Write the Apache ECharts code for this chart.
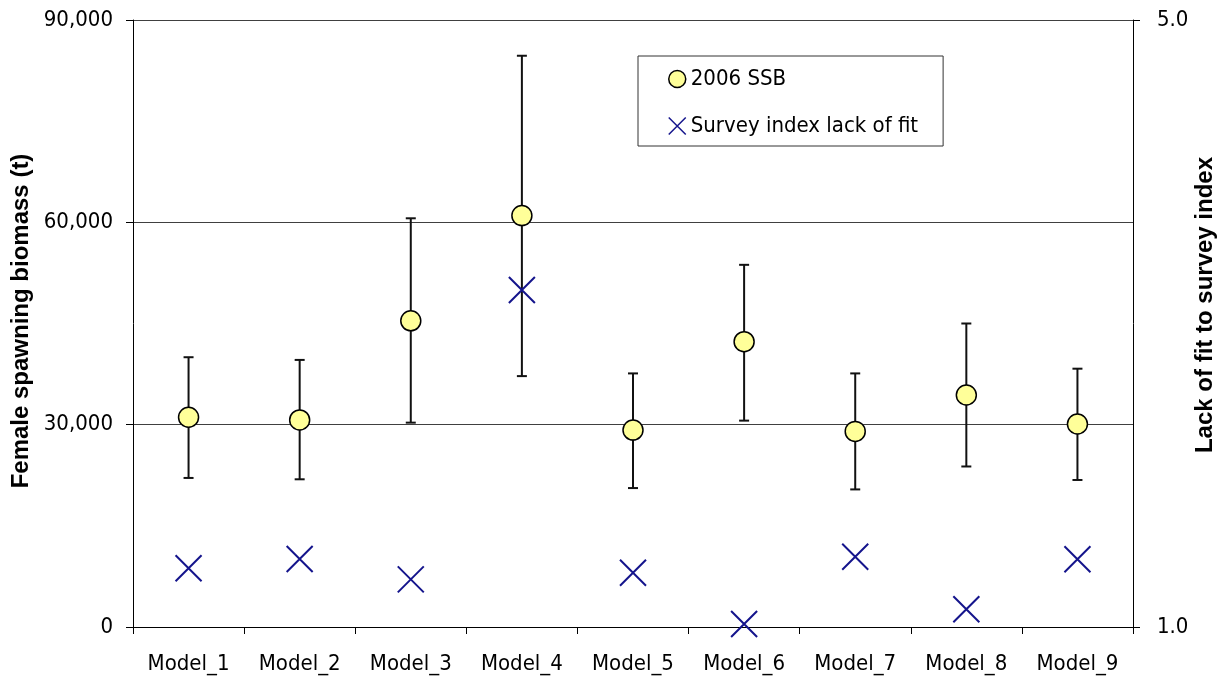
<!DOCTYPE html>
<html>
<head>
<meta charset="utf-8">
<script src="https://cdn.jsdelivr.net/npm/echarts@6/dist/echarts.min.js"></script>
<style>
  html, body { margin: 0; padding: 0; background: #fff; }
  #chart { width: 1223px; height: 679px; }
</style>
</head>
<body>
<div id="chart"></div>
<script>
// ---- data ----
var categories = ['Model_1','Model_2','Model_3','Model_4','Model_5','Model_6','Model_7','Model_8','Model_9'];
var ssb2006 = [31100, 30700, 45400, 61000, 29200, 42300, 29000, 34400, 30100];
var ssbLower = [22100, 21900, 30300, 37200, 20600, 30600, 20400, 23800, 21800];
var ssbUpper = [40000, 39600, 60600, 84700, 37600, 53700, 37600, 45000, 38300];
var lackOfFit = [1.387, 1.448, 1.314, 3.221, 1.358, 1.020, 1.463, 1.117, 1.446];
var leftTicks = [0, 30000, 60000, 90000];
var rightTicks = [1.0, 5.0];

var FONT = '"DejaVu Sans Condensed", "DejaVu Sans", sans-serif';
var TITLE_FONT = '"Liberation Sans", Arial, sans-serif';

var errData = categories.map(function (c, i) { return [i, ssbLower[i], ssbUpper[i]]; });

var chart = echarts.init(document.getElementById('chart'), null, { renderer: 'canvas' });

chart.setOption({
  animation: false,
  backgroundColor: '#ffffff',
  grid: { left: 133, right: 90, top: 20, bottom: 52, containLabel: false },
  legend: {
    orient: 'vertical',
    left: 638,
    top: 56,
    data: ['2006 SSB', 'Survey index lack of fit'],
    borderColor: '#333',
    borderWidth: 1,
    padding: [12, 25, 9, 30],
    itemGap: 25,
    itemWidth: 17,
    itemHeight: 17,
    itemStyle: { borderWidth: 1.5 },
    textStyle: { fontFamily: FONT, fontSize: 22, color: '#000', lineHeight: 22 }
  },
  xAxis: {
    type: 'category',
    data: categories,
    boundaryGap: true,
    axisLine: { show: true, lineStyle: { color: '#000', width: 1 } },
    axisTick: { show: true, inside: false, length: 7, alignWithLabel: false, interval: 0, lineStyle: { color: '#000' } },
    axisLabel: { interval: 0, margin: 26, fontFamily: FONT, fontSize: 22, color: '#000' },
    splitLine: { show: false }
  },
  yAxis: [
    {
      type: 'value',
      min: leftTicks[0],
      max: leftTicks[leftTicks.length - 1],
      interval: leftTicks[1] - leftTicks[0],
      position: 'left',
      axisLine: { show: true, lineStyle: { color: '#000', width: 1 } },
      axisTick: { show: true, inside: false, length: 7, lineStyle: { color: '#000' } },
      axisLabel: {
        margin: 20, fontFamily: FONT, fontSize: 22, color: '#000',
        formatter: function (v) { return v.toLocaleString('en-US'); }
      },
      splitLine: { show: true, lineStyle: { color: '#404040', width: 1 } }
    },
    {
      type: 'value',
      min: rightTicks[0],
      max: rightTicks[rightTicks.length - 1],
      interval: rightTicks[1] - rightTicks[0],
      position: 'right',
      axisLine: { show: true, lineStyle: { color: '#000', width: 1 } },
      axisTick: { show: true, inside: false, length: 7, lineStyle: { color: '#000' } },
      axisLabel: {
        margin: 24, fontFamily: FONT, fontSize: 22, color: '#000',
        formatter: function (v) { return v.toFixed(1); }
      },
      splitLine: { show: false }
    }
  ],
  graphic: [
    {
      type: 'text', x: 21, y: 321, rotation: Math.PI / 2,
      style: {
        text: 'Female spawning biomass (t)', fontFamily: TITLE_FONT, fontWeight: 'bold',
        fontSize: 24, fill: '#000', textAlign: 'center', textVerticalAlign: 'middle'
      }
    },
    {
      type: 'text', x: 1205, y: 305, rotation: Math.PI / 2,
      style: {
        text: 'Lack of fit to survey index', fontFamily: TITLE_FONT, fontWeight: 'bold',
        fontSize: 24, fill: '#000', textAlign: 'center', textVerticalAlign: 'middle'
      }
    }
  ],
  series: [
    {
      name: 'errorbars',
      type: 'custom',
      yAxisIndex: 0,
      z: 2,
      encode: { x: 0, y: [1, 2] },
      data: errData,
      renderItem: function (params, api) {
        var x = api.value(0);
        var lo = api.coord([x, api.value(1)]);
        var hi = api.coord([x, api.value(2)]);
        var hw = 5;
        var st = { stroke: '#111', lineWidth: 2 };
        return {
          type: 'group',
          children: [
            { type: 'line', shape: { x1: lo[0], y1: lo[1], x2: hi[0], y2: hi[1] }, style: st },
            { type: 'line', shape: { x1: lo[0] - hw, y1: lo[1], x2: lo[0] + hw, y2: lo[1] }, style: st },
            { type: 'line', shape: { x1: hi[0] - hw, y1: hi[1], x2: hi[0] + hw, y2: hi[1] }, style: st }
          ]
        };
      }
    },
    {
      name: '2006 SSB',
      type: 'scatter',
      yAxisIndex: 0,
      z: 5,
      symbol: 'circle',
      symbolSize: 20,
      itemStyle: { color: '#ffff99', borderColor: '#000', borderWidth: 1.5, opacity: 1 },
      data: ssb2006
    },
    {
      name: 'Survey index lack of fit',
      type: 'scatter',
      yAxisIndex: 1,
      z: 5,
      symbol: 'path://M0,0L20,20M20,0L0,20',
      symbolSize: 26,
      itemStyle: { color: 'rgba(0,0,0,0)', borderColor: '#14148c', borderWidth: 2, opacity: 1 },
      data: lackOfFit
    }
  ]
});
</script>
</body>
</html>
